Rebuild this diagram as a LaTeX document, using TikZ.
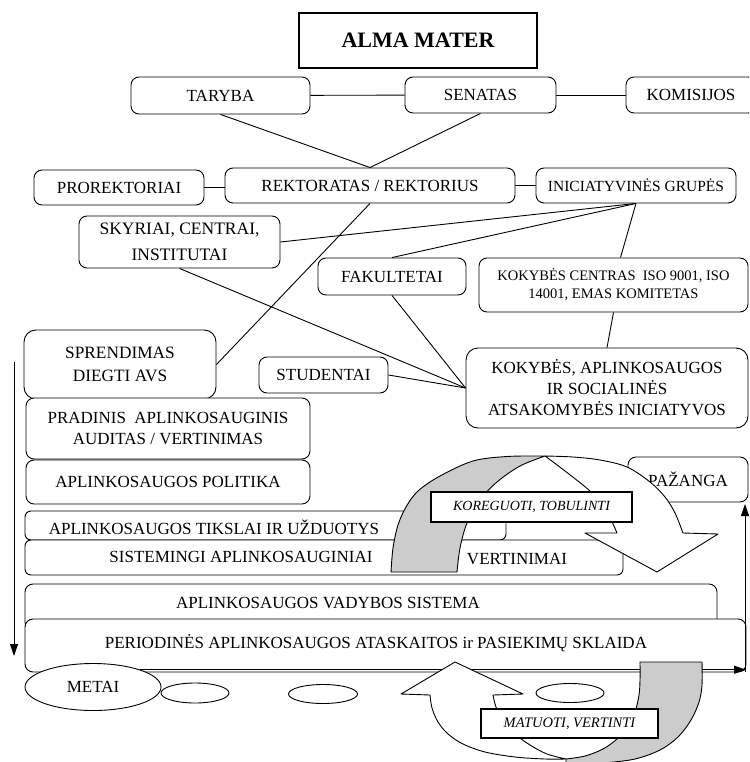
\documentclass[tikz,border=0pt]{standalone}
\usepackage{fontspec}
\setmainfont{Liberation Serif}
\usetikzlibrary{shapes.geometric,arrows.meta,calc}
\definecolor{bandgray}{RGB}{204,204,204}
\newcommand\fsA{\fontsize{17}{21}\selectfont}
\newcommand\fsB{\fontsize{15.5}{19}\selectfont}
\newcommand\fsC{\fontsize{17.5}{26}\selectfont}
\newcommand\fsD{\fontsize{14.5}{18}\selectfont}
\newcommand\fsE{\fontsize{17.3}{23}\selectfont}
\newcommand\fsF{\fontsize{14.5}{17}\selectfont}
\newcommand\fsG{\fontsize{14}{17}\selectfont}
\begin{document}
\begin{tikzpicture}[x=1pt,y=-1pt,
  wh/.style 2 args={minimum width=#1pt, minimum height=#2pt},
  box/.style={draw, rounded corners=8pt, fill=white, line width=0.9pt, inner sep=0pt, align=center, font=\fsA},
  sbox/.style={draw, fill=white, line width=1.1pt, inner sep=0pt, align=center},
  conn/.style={line width=0.9pt},
  txt/.style={inner sep=0pt, font=\fsA},
  arr/.style={line width=0.9pt, -{Triangle[length=12pt,width=8pt]}},
  oval/.style={draw, ellipse, fill=white, line width=0.9pt, inner sep=0pt, font=\fsA},
  band/.style={line width=0.9pt, line join=round}]
\useasboundingbox (0,0) rectangle (749,762);
\clip (0,0) rectangle (749,762);

% top hierarchy
\node[sbox, wh={238}{55}, font=\fontsize{22}{26}\selectfont\bfseries] (alma) at (418,40.5) {ALMA MATER};
\node[box, wh={179}{37}] (taryba) at (220.5,95.5) {TARYBA};
\node[box, wh={151}{36}] (senatas) at (480.5,95) {SENATAS};
\node[box, wh={130}{36}] (komisijos) at (691,95) {KOMISIJOS};
\node[box, wh={170}{35}] (prorekt) at (119,187.5) {PROREKTORIAI};
\node[box, wh={290}{35}] (rekt) at (370,185.5) {REKTORATAS / REKTORIUS};
\node[box, wh={200}{35}, font=\fsB] (inic) at (636,185.5) {INICIATYVINĖS GRUPĖS};
\node[box, wh={201}{52}, font=\fsC] (skyriai) at (179.5,242) {SKYRIAI, CENTRAI,\\INSTITUTAI};
\node[box, wh={148}{37}] (fakult) at (392,276.5) {FAKULTETAI};
\node[box, wh={269}{54}, font=\fsD] (kc) at (613.5,285) {KOKYBĖS CENTRAS\ \ ISO 9001, ISO\\14001, EMAS KOMITETAS};
\node[box, wh={282}{80}, rounded corners=12pt] (ka) at (607,388) {KOKYBĖS, APLINKOSAUGOS\\IR SOCIALINĖS\\ATSAKOMYBĖS INICIATYVOS};
\node[box, wh={129}{36}] (stud) at (323.5,375) {STUDENTAI};
\node[box, wh={192}{69}, rounded corners=12pt, font=\fsE] (sprend) at (120,364.5) {SPRENDIMAS\\DIEGTI AVS};

% connectors
\draw[conn] (taryba) -- (senatas);
\draw[conn] (senatas) -- (komisijos);
\draw[conn] (taryba.south) -- (rekt.north);
\draw[conn] (senatas.south) -- (rekt.north);
\draw[conn] (prorekt.east) -- (rekt.west |- prorekt.east);
\draw[conn] (rekt.east) -- (inic.west);
\draw[conn] (rekt.south) -- (sprend.east);
\draw[conn] (inic.south) -- (skyriai.east);
\draw[conn] (inic.south) -- (fakult.north);
\draw[conn] (inic.south) -- ([xshift=7pt]kc.north);
\draw[conn] (kc.south) -- (ka.north);
\draw[conn] (skyriai.south) -- (ka.west);
\draw[conn] (fakult.south) -- (ka.west);
\draw[conn] (stud.east) -- (ka.west);

% process stack
\node[box, wh={284}{61}] (pradinis) at (168,428.5) {PRADINIS\ \ APLINKOSAUGINIS\\AUDITAS / VERTINIMAS};
\node[box, wh={284}{44}] (politika) at (168,482) {APLINKOSAUGOS POLITIKA};
\node[box, wh={481}{29}, rounded corners=6pt] (tikslai) at (265.5,525.5) {};
\node[txt] (tikslaiT) at (214,527) {APLINKOSAUGOS TIKSLAI IR UŽDUOTYS};
\node[box, wh={598}{35}, rounded corners=6pt] (sistem) at (324,557.5) {};
\node[txt] (sistemT) at (241,557) {SISTEMINGI APLINKOSAUGINIAI};
\node[txt] (vertT) at (517,559) {VERTINIMAI};
\node[box, wh={692}{46}] (avs) at (371,607) {};
\node[txt] (avsT) at (328,603) {APLINKOSAUGOS VADYBOS SISTEMA};
\node[box, wh={721}{53}] (period) at (385.5,645.5) {};
\node[txt] (periodT) at (376,643) {PERIODINĖS APLINKOSAUGOS ATASKAITOS ir PASIEKIMŲ SKLAIDA};
\node[box, wh={120}{45}] (pazanga) at (688,479.5) {PAŽANGA};

% time axis
\node[oval, wh={136}{47}] (metai) at (93,687) {METAI};
\node[oval, wh={68}{20}] (e1) at (195,693) {};
\node[oval, wh={69}{19}] (e2) at (323,694) {};
\node[oval, wh={68}{19}] (e3) at (570,693) {};
\coordinate (tlend) at (746,679);
\draw[arr] (metai.20) -- (tlend |- metai.20);
\coordinate (la1) at (14,362);
\coordinate (la2) at (14,656);
\draw[arr] (la1) -- (la2);
\coordinate (ra1) at (745,672);
\coordinate (ra2) at (745,504);
\draw[arr] (ra1) -- (ra2);

% upper curved arrow (KOREGUOTI)
\filldraw[band, fill=bandgray]
  plot[smooth, tension=0.55] coordinates {(391,572) (393,548) (398,525) (406,507) (418,491) (440,476) (473,461) (507,456.5) (545,456)}
  -- plot[smooth, tension=0.55] coordinates {(545,456) (520,466) (497,482) (480,500) (467,523) (460,548) (457,572)}
  -- cycle;
\filldraw[band, fill=white]
  plot[smooth, tension=0.55] coordinates {(545,456) (573,457) (600,460) (627,467) (650,482) (665,497) (675,513) (683,533)}
  -- (718,534) -- (657,572) -- (585,533) -- (617,533)
  -- plot[smooth, tension=0.55] coordinates {(617,533) (613,524) (605,508) (590,491) (565,471) (545,456)}
  -- cycle;
\node[sbox, wh={201}{30}, font=\fsG\itshape] (koreg) at (531.5,507) {KOREGUOTI, TOBULINTI};

% lower curved arrow (MATUOTI)
\filldraw[band, fill=white]
  (430,695) -- (401,694) -- (455,662) -- (523,694) -- (493,695)
  -- plot[smooth, tension=0.55] coordinates {(493,695) (496,707) (503,720) (515,734) (530,745) (547,754) (566,759)}
  -- plot[smooth, tension=0.55] coordinates {(566,759) (545,759) (515,757) (485,752) (463,744) (448,734) (438,722) (432,708) (430,695)}
  -- cycle;
\filldraw[band, fill=bandgray]
  (640,662) -- (702,662)
  -- plot[smooth, tension=0.55] coordinates {(702,662) (702,685) (699,702) (691,720) (678,737) (660,750) (635,759) (605,763) (580,766)}
  -- (566,770) -- (566,759)
  -- plot[smooth, tension=0.55] coordinates {(566,759) (585,756) (603,749) (617,739) (628,727) (635,712) (639,695) (640,680) (640,662)}
  -- cycle;
\node[sbox, wh={177}{29}, font=\fsF\itshape] (matuoti) at (569.5,723.5) {MATUOTI, VERTINTI};
\end{tikzpicture}
\end{document}
